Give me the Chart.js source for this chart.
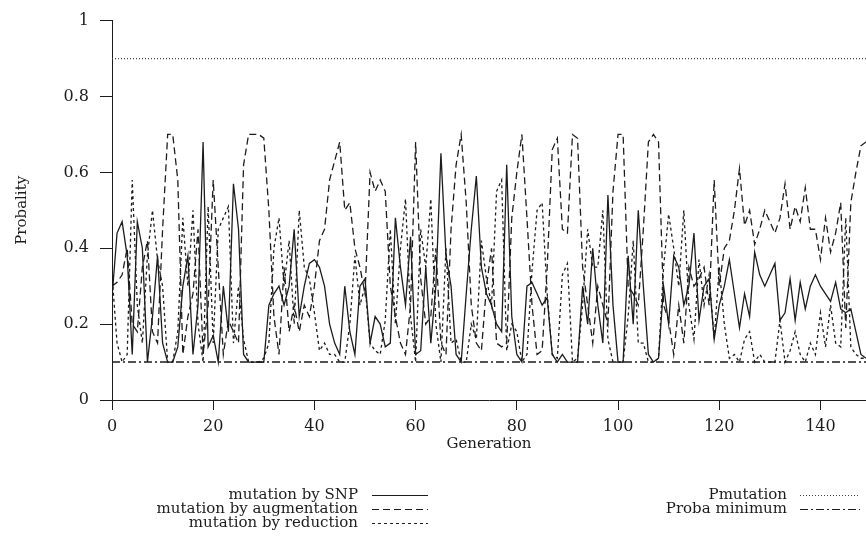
<!DOCTYPE html>
<html>
<head>
<meta charset="utf-8">
<script src="https://cdn.jsdelivr.net/npm/chart.js@4/dist/chart.umd.min.js"></script>
<style>
  html, body { margin: 0; padding: 0; background: #fff; }
  #wrap { position: relative; width: 866px; height: 548px; }
</style>
</head>
<body>
<div id="wrap"><canvas id="c" width="866" height="548"></canvas></div>
<script>
// Generation index (x) for every sample
const generations = [
  0,1,2,3,4,5,6,7,8,9,10,11,12,13,14,15,16,17,18,19,
  20,21,22,23,24,25,26,27,28,29,30,31,32,33,34,35,36,37,38,39,
  40,41,42,43,44,45,46,47,48,49,50,51,52,53,54,55,56,57,58,59,
  60,61,62,63,64,65,66,67,68,69,70,71,72,73,74,75,76,77,78,79,
  80,81,82,83,84,85,86,87,88,89,90,91,92,93,94,95,96,97,98,99,
  100,101,102,103,104,105,106,107,108,109,110,111,112,113,114,115,116,117,118,119,
  120,121,122,123,124,125,126,127,128,129,130,131,132,133,134,135,136,137,138,139,
  140,141,142,143,144,145,146,147,148,149
];

// Probability of each mutation operator per generation
const snp = [
  0.27,0.44,0.47,0.38,0.12,0.47,0.40,0.10,0.22,0.38,0.15,0.10,0.10,0.14,0.30,0.38,0.12,0.25,0.68,0.14,
  0.17,0.10,0.30,0.18,0.57,0.45,0.12,0.10,0.10,0.10,0.10,0.25,0.28,0.30,0.25,0.30,0.45,0.22,0.30,0.36,
  0.37,0.35,0.30,0.20,0.15,0.12,0.30,0.18,0.12,0.30,0.32,0.15,0.22,0.20,0.14,0.15,0.48,0.35,0.25,0.43,
  0.12,0.13,0.35,0.15,0.30,0.65,0.38,0.30,0.12,0.10,0.28,0.45,0.59,0.35,0.28,0.25,0.20,0.18,0.62,0.22,
  0.12,0.10,0.30,0.31,0.28,0.25,0.27,0.12,0.10,0.12,0.10,0.10,0.10,0.30,0.20,0.40,0.25,0.15,0.54,0.25,
  0.10,0.10,0.38,0.20,0.50,0.30,0.12,0.10,0.11,0.30,0.20,0.38,0.35,0.25,0.30,0.44,0.21,0.30,0.32,0.16,
  0.25,0.30,0.37,0.28,0.19,0.28,0.22,0.39,0.33,0.30,0.33,0.36,0.21,0.23,0.32,0.21,0.31,0.24,0.30,0.33,
  0.30,0.28,0.26,0.31,0.24,0.23,0.24,0.18,0.12,0.11
];
const augmentation = [
  0.30,0.31,0.33,0.40,0.20,0.18,0.35,0.42,0.18,0.15,0.45,0.70,0.70,0.58,0.12,0.22,0.28,0.45,0.12,0.25,
  0.58,0.35,0.12,0.21,0.18,0.15,0.62,0.70,0.70,0.70,0.69,0.50,0.22,0.12,0.35,0.18,0.25,0.18,0.25,0.22,
  0.30,0.42,0.45,0.58,0.63,0.68,0.50,0.52,0.40,0.35,0.28,0.60,0.55,0.58,0.55,0.30,0.22,0.15,0.12,0.25,
  0.68,0.32,0.20,0.22,0.40,0.15,0.12,0.45,0.62,0.70,0.52,0.25,0.15,0.13,0.30,0.40,0.15,0.14,0.15,0.48,
  0.60,0.70,0.48,0.25,0.12,0.13,0.35,0.66,0.69,0.45,0.44,0.70,0.69,0.35,0.25,0.15,0.30,0.25,0.20,0.55,
  0.70,0.70,0.30,0.28,0.25,0.45,0.68,0.70,0.68,0.25,0.21,0.12,0.25,0.15,0.35,0.30,0.32,0.35,0.25,0.58,
  0.30,0.40,0.42,0.50,0.61,0.46,0.50,0.41,0.45,0.50,0.47,0.44,0.48,0.57,0.45,0.51,0.47,0.56,0.45,0.45,
  0.37,0.48,0.39,0.44,0.52,0.19,0.52,0.60,0.67,0.68
];
const reduction = [
  0.33,0.15,0.10,0.12,0.58,0.25,0.15,0.38,0.50,0.37,0.30,0.10,0.10,0.18,0.48,0.30,0.50,0.20,0.10,0.51,
  0.15,0.45,0.48,0.51,0.15,0.30,0.16,0.10,0.10,0.10,0.11,0.15,0.40,0.48,0.30,0.42,0.20,0.50,0.35,0.32,
  0.23,0.13,0.15,0.12,0.12,0.10,0.10,0.20,0.38,0.25,0.30,0.15,0.13,0.12,0.21,0.45,0.20,0.40,0.53,0.22,
  0.10,0.45,0.35,0.53,0.20,0.10,0.40,0.15,0.16,0.10,0.10,0.20,0.16,0.42,0.32,0.25,0.55,0.58,0.13,0.20,
  0.18,0.10,0.12,0.34,0.50,0.52,0.28,0.12,0.11,0.33,0.36,0.10,0.11,0.25,0.45,0.35,0.35,0.50,0.16,0.10,
  0.10,0.10,0.22,0.42,0.15,0.15,0.10,0.10,0.11,0.35,0.49,0.40,0.30,0.50,0.25,0.16,0.37,0.25,0.33,0.16,
  0.35,0.20,0.11,0.12,0.10,0.16,0.18,0.10,0.12,0.10,0.10,0.10,0.21,0.10,0.13,0.18,0.12,0.10,0.15,0.12,
  0.23,0.14,0.25,0.15,0.14,0.48,0.14,0.12,0.11,0.11
];

// Constant reference levels
const pMutation = 0.9;
const probaMinimum = 0.1;

// Axis tick labels
const xTickLabels = ['0', '20', '40', '60', '80', '100', '120', '140'];
const yTickLabels = ['0', '0.2', '0.4', '0.6', '0.8', '1'];

const INK = '#1c1c1c';
const SERIF = '"DejaVu Serif", "Liberation Serif", serif';

const toPoints = values => generations.map((g, i) => ({ x: g, y: values[i] }));
const constLine = v => [{ x: generations[0], y: v }, { x: generations[generations.length - 1], y: v }];

const datasets = [
  { label: 'mutation by SNP', data: toPoints(snp), borderDash: [] },
  { label: 'mutation by augmentation', data: toPoints(augmentation), borderDash: [7, 4] },
  { label: 'mutation by reduction', data: toPoints(reduction), borderDash: [3, 3] },
  { label: 'Pmutation', data: constLine(pMutation), borderDash: [1, 2], borderColor: '#444' },
  { label: 'Proba minimum', data: constLine(probaMinimum), borderDash: [8, 3, 2, 3], borderWidth: 1.5 }
].map(d => Object.assign({
  borderColor: INK, borderWidth: 1.3, pointRadius: 0, tension: 0, fill: false
}, d));

// Two-block legend under the axis: text right-aligned, line sample on the right
const sideLegend = {
  id: 'sideLegend',
  afterDraw(chart) {
    const ctx = chart.ctx;
    const blocks = [
      { textRight: 358, x0: 372, x1: 428, y0: 495, items: [0, 1, 2] },
      { textRight: 787, x0: 800, x1: 860, y0: 495, items: [3, 4] }
    ];
    ctx.save();
    ctx.font = '15px ' + SERIF;
    ctx.fillStyle = INK;
    ctx.textAlign = 'right';
    ctx.textBaseline = 'middle';
    blocks.forEach(b => {
      b.items.forEach((di, k) => {
        const ds = chart.data.datasets[di];
        const y = b.y0 + k * 14;
        ctx.fillText(ds.label, b.textRight, y);
        ctx.setLineDash(ds.borderDash || []);
        ctx.strokeStyle = ds.borderColor;
        ctx.lineWidth = 1;
        ctx.beginPath();
        ctx.moveTo(b.x0, Math.round(y) + 0.5);
        ctx.lineTo(b.x1, Math.round(y) + 0.5);
        ctx.stroke();
      });
    });
    ctx.restore();
  }
};

new Chart(document.getElementById('c'), {
  type: 'line',
  data: { datasets },
  options: {
    responsive: false,
    animation: false,
    devicePixelRatio: 1,
    layout: { padding: { top: 17, left: 0, right: 0, bottom: 0 } },
    plugins: { legend: { display: false }, tooltip: { enabled: false } },
    scales: {
      x: {
        type: 'linear', min: 0, max: 149,
        afterFit(s) { s.height = 148; },
        grid: { drawOnChartArea: false, drawTicks: true, tickLength: 10, tickColor: INK },
        border: { display: true, color: INK, width: 1 },
        ticks: {
          stepSize: 20, includeBounds: false, autoSkip: false, maxRotation: 0,
          color: INK, font: { family: SERIF, size: 16 }, padding: 7,
          callback: v => (v % 20 === 0 ? xTickLabels[v / 20] : '')
        },
        title: {
          display: true, text: 'Generation', color: INK,
          font: { family: SERIF, size: 15 }, padding: { top: 0, bottom: 95 }
        }
      },
      y: {
        min: 0, max: 1,
        afterFit(s) { s.width = 112; },
        grid: { drawOnChartArea: false, drawTicks: true, tickLength: 12, tickColor: INK },
        border: { display: true, color: INK, width: 1 },
        ticks: {
          stepSize: 0.2, color: INK, font: { family: SERIF, size: 16 }, padding: 11,
          callback: v => yTickLabels[Math.round(v * 5)]
        },
        title: {
          display: true, text: 'Probality', color: INK,
          font: { family: SERIF, size: 15 }, padding: { top: 13, bottom: 0 }
        }
      }
    }
  },
  plugins: [sideLegend]
});
</script>
</body>
</html>
